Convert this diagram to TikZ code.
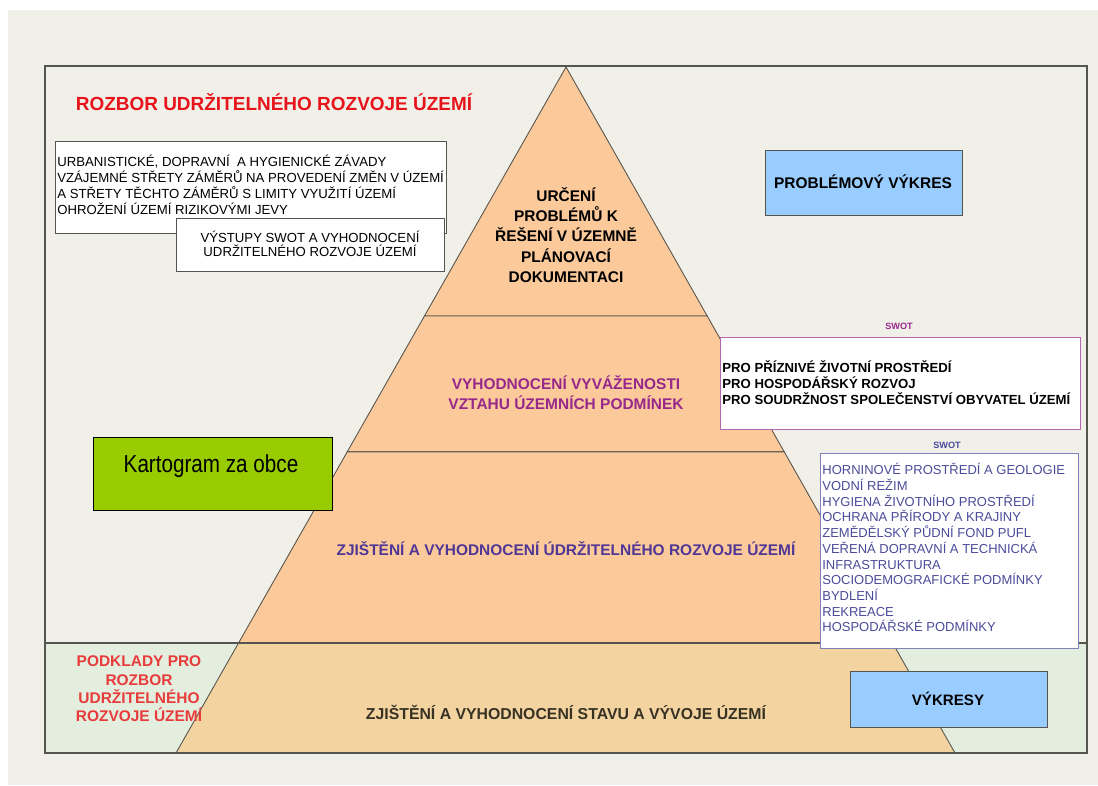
\documentclass[tikz,border=0pt]{standalone}
\usepackage{fontspec}
\setmainfont{Liberation Sans}
\newfontfamily\narrowfont{Liberation Sans}[FakeStretch=0.84]
\usetikzlibrary{calc}

\definecolor{panelgray}{RGB}{240,240,233}
\definecolor{bandgreen}{RGB}{228,238,222}
\definecolor{pyrorange}{RGB}{252,201,155}
\definecolor{pyrsand}{RGB}{243,211,160}
\definecolor{titlered}{RGB}{232,20,28}
\definecolor{baseredtext}{RGB}{232,60,60}
\definecolor{midpurple}{RGB}{150,40,140}
\definecolor{lowblue}{RGB}{80,55,150}
\definecolor{listblue}{RGB}{75,75,155}
\definecolor{framegray}{RGB}{85,85,80}
\definecolor{basetext}{RGB}{55,50,35}
\definecolor{plotblue}{RGB}{153,204,255}
\definecolor{kartogreen}{RGB}{153,204,0}

\tikzset{
  layer/.style={draw=framegray,line width=0.5pt},
  whitebox/.style={draw=framegray,fill=white,line width=0.6pt,anchor=north west,inner sep=0pt},
  bluebox/.style={draw=framegray,fill=plotblue,line width=0.6pt,anchor=north west,inner sep=0pt},
  plaintext/.style={inner sep=0pt,align=center}
}

\begin{document}
\begin{tikzpicture}[x=0.02cm,y=-0.02cm]
\useasboundingbox (0,0) rectangle (1098,785);
% background
\fill[white] (0,0) rectangle (1098,785);
\fill[panelgray] (8,10) rectangle (1098,785);
\fill[bandgreen] (45,643) rectangle (1087,753);

% pyramid
\coordinate (apex) at (566,67);
\coordinate (baseL) at (176,753);
\coordinate (baseR) at (955,753);
\coordinate (topL) at ($(apex)!0.363!(baseL)$);
\coordinate (topR) at ($(apex)!0.363!(baseR)$);
\coordinate (midL) at ($(apex)!0.561!(baseL)$);
\coordinate (midR) at ($(apex)!0.561!(baseR)$);
\coordinate (lowL) at ($(apex)!0.840!(baseL)$);
\coordinate (lowR) at ($(apex)!0.840!(baseR)$);
\draw[layer,fill=pyrorange] (apex) -- (topR) -- (topL) -- cycle;
\draw[layer,fill=pyrorange] (topL) -- (topR) -- (midR) -- (midL) -- cycle;
\draw[layer,fill=pyrorange] (midL) -- (midR) -- (lowR) -- (lowL) -- cycle;
\draw[layer,fill=pyrsand] (lowL) -- (lowR) -- (baseR) -- (baseL) -- cycle;

% frame
\draw[framegray,line width=0.8pt] (45,66) rectangle (1087,753);
\draw[framegray,line width=0.6pt] (45,643) -- (1087,643);

\node[plaintext,text=titlered,font=\fontsize{10.8}{12}\selectfont\bfseries] (title) at (274,102) {ROZBOR UDRŽITELNÉHO ROZVOJE ÚZEMÍ};

\node[whitebox,minimum width=7.82cm,minimum height=1.84cm] (zavady) at (55,141) {};
\node[inner sep=0pt,anchor=north west,align=left,font=\fontsize{7.5}{9.1}\selectfont] (zavadytext) at (57,155)
  {URBANISTICKÉ, DOPRAVNÍ\ \ A HYGIENICKÉ ZÁVADY\\
   VZÁJEMNÉ STŘETY ZÁMĚRŮ NA PROVEDENÍ ZMĚN V ÚZEMÍ\\
   A STŘETY TĚCHTO ZÁMĚRŮ S LIMITY VYUŽITÍ ÚZEMÍ\\
   OHROŽENÍ ÚZEMÍ RIZIKOVÝMI JEVY};
\node[whitebox,minimum width=5.36cm,minimum height=1.06cm] (vystupy) at (176,218) {};
\node[plaintext,font=\fontsize{7.5}{8}\selectfont] (vystupytext) at (310,244)
  {VÝSTUPY SWOT A VYHODNOCENÍ\\ UDRŽITELNÉHO ROZVOJE ÚZEMÍ};

\node[plaintext,font=\fontsize{8.8}{11.6}\selectfont\bfseries] (urceni) at (566,235)
  {URČENÍ\\ PROBLÉMŮ K\\ ŘEŠENÍ V ÚZEMNĚ\\ PLÁNOVACÍ\\ DOKUMENTACI};

\node[bluebox,minimum width=3.94cm,minimum height=1.30cm] (problemovy) at (765,150) {};
\node[plaintext,font=\fontsize{8.8}{10}\selectfont\bfseries] (problemovytext) at (863,182) {PROBLÉMOVÝ VÝKRES};

\node[plaintext,text=midpurple,font=\fontsize{5.2}{6}\selectfont\bfseries] (swotA) at (899,326) {SWOT};
\node[whitebox,draw=midpurple!70,minimum width=7.2cm,minimum height=1.84cm] (prizive) at (720,337) {};
\node[inner sep=0pt,anchor=north west,align=left,font=\fontsize{7.5}{9.1}\selectfont\bfseries] (prizivetext) at (722,360)
  {PRO PŘÍZNIVÉ ŽIVOTNÍ PROSTŘEDÍ\\
   PRO HOSPODÁŘSKÝ ROZVOJ\\
   PRO SOUDRŽNOST SPOLEČENSTVÍ OBYVATEL ÚZEMÍ};

\node[plaintext,text=midpurple,font=\fontsize{8.8}{11.3}\selectfont\bfseries] (vyvazenost) at (566,393)
  {VYHODNOCENÍ VYVÁŽENOSTI\\ VZTAHU ÚZEMNÍCH PODMÍNEK};

\node[plaintext,text=listblue,font=\fontsize{5.2}{6}\selectfont\bfseries] (swotB) at (947,445) {SWOT};
\node[whitebox,draw=listblue!70,minimum width=5.16cm,minimum height=3.9cm] (jevy) at (820,453) {};
\node[inner sep=0pt,anchor=north west,align=left,text=listblue,font=\fontsize{7.4}{8.95}\selectfont] (jevytext) at (822,463)
  {HORNINOVÉ PROSTŘEDÍ A GEOLOGIE\\
   VODNÍ REŽIM\\
   HYGIENA ŽIVOTNÍHO PROSTŘEDÍ\\
   OCHRANA PŘÍRODY A KRAJINY\\
   ZEMĚDĚLSKÝ PŮDNÍ FOND PUFL\\
   VEŘENÁ DOPRAVNÍ A TECHNICKÁ\\
   INFRASTRUKTURA\\
   SOCIODEMOGRAFICKÉ PODMÍNKY\\
   BYDLENÍ\\
   REKREACE\\
   HOSPODÁŘSKÉ PODMÍNKY};

\node[plaintext,text=lowblue,font=\fontsize{8.8}{10}\selectfont\bfseries] (udrzitelny) at (566,549)
  {ZJIŠTĚNÍ A VYHODNOCENÍ ÚDRŽITELNÉHO ROZVOJE ÚZEMÍ};

\node[draw=black,fill=kartogreen,line width=0.8pt,anchor=north west,inner sep=0pt,minimum width=4.78cm,minimum height=1.46cm] (kartogram) at (93,437) {};
\node[plaintext,font=\narrowfont\fontsize{14}{15}\selectfont] (kartogramtext) at (211,466) {Kartogram za obce};

\node[plaintext,text=baseredtext,font=\fontsize{8.8}{10.4}\selectfont\bfseries] (podklady) at (139,689)
  {PODKLADY PRO\\ ROZBOR\\ UDRŽITELNÉHO\\ ROZVOJE ÚZEMÍ};
\node[plaintext,text=basetext,font=\fontsize{9}{10}\selectfont\bfseries] (stav) at (566,712)
  {ZJIŠTĚNÍ A VYHODNOCENÍ STAVU A VÝVOJE ÚZEMÍ};

\node[bluebox,minimum width=3.94cm,minimum height=1.12cm] (vykresy) at (850,671) {};
\node[plaintext,font=\fontsize{8.6}{10}\selectfont\bfseries] (vykresytext) at (948,699) {VÝKRESY};
\end{tikzpicture}
\end{document}
